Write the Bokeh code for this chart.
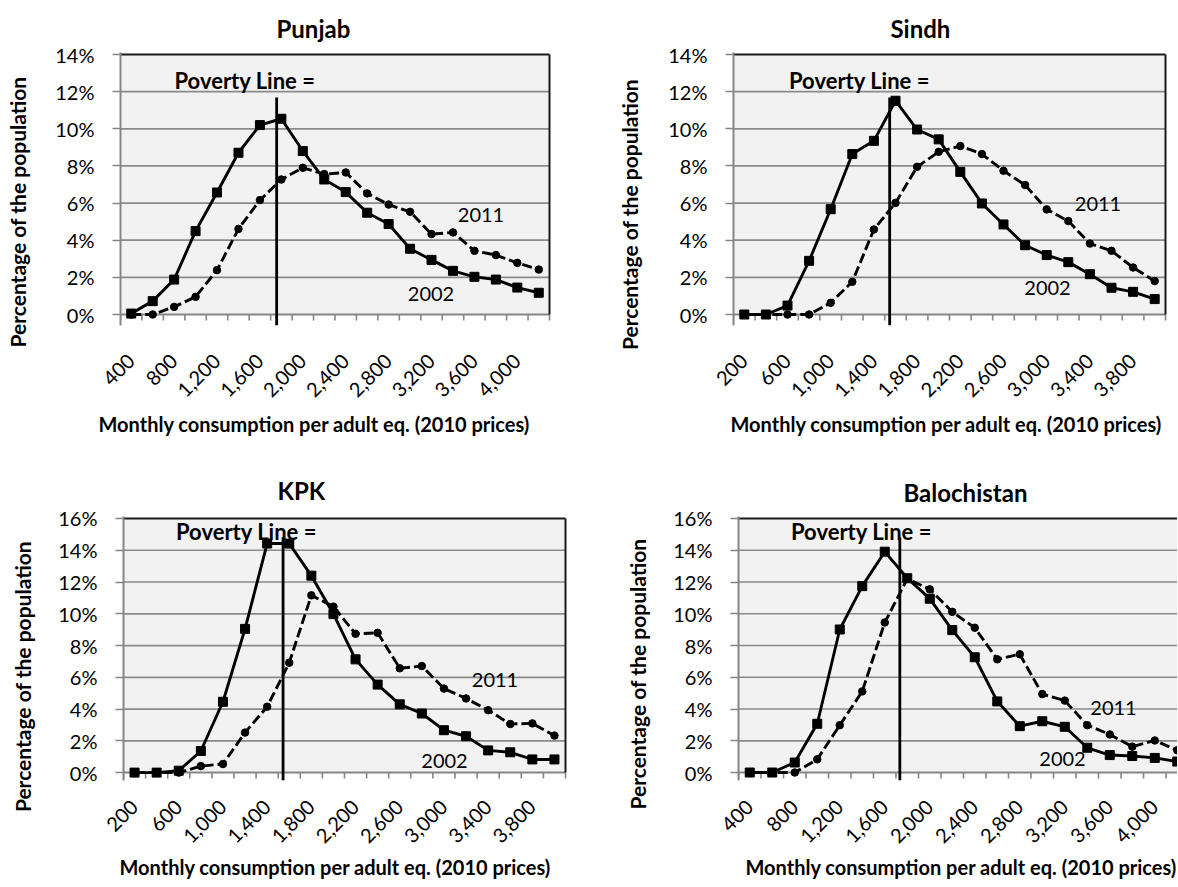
import math
from bokeh.plotting import figure
from bokeh.layouts import column, row
from bokeh.models import Range1d, FixedTicker, PrintfTickFormatter, Label, Title
from bokeh.embed import file_html
from bokeh.resources import INLINE

FONT = "Lato"

# ---------------- data ----------------
punjab_cats = [400, 600, 800, 1000, 1200, 1400, 1600, 1800, 2000, 2200,
               2400, 2600, 2800, 3000, 3200, 3400, 3600, 3800, 4000, 4200]
punjab_2002 = [0.05, 0.72, 1.88, 4.49, 6.57, 8.71, 10.2, 10.54, 8.8, 7.27,
               6.59, 5.48, 4.87, 3.54, 2.94, 2.35, 2.03, 1.88, 1.45, 1.17]
punjab_2011 = [0.0, 0.0, 0.41, 0.95, 2.39, 4.61, 6.16, 7.27, 7.9, 7.56,
               7.65, 6.52, 5.92, 5.53, 4.33, 4.42, 3.43, 3.2, 2.78, 2.42]

sindh_cats = [200, 400, 600, 800, 1000, 1200, 1400, 1600, 1800, 2000,
              2200, 2400, 2600, 2800, 3000, 3200, 3400, 3600, 3800, 4000]
sindh_2002 = [0.0, 0.0, 0.48, 2.89, 5.67, 8.64, 9.35, 11.51, 9.96, 9.43,
              7.68, 5.98, 4.85, 3.73, 3.2, 2.82, 2.17, 1.44, 1.22, 0.83]
sindh_2011 = [0.0, 0.0, 0.0, 0.0, 0.63, 1.76, 4.58, 6.01, 7.95, 8.76,
              9.07, 8.64, 7.74, 6.97, 5.66, 5.03, 3.82, 3.43, 2.53, 1.8]

kpk_cats = [200, 400, 600, 800, 1000, 1200, 1400, 1600, 1800, 2000,
            2200, 2400, 2600, 2800, 3000, 3200, 3400, 3600, 3800, 4000]
kpk_2002 = [0.0, 0.0, 0.12, 1.36, 4.46, 9.05, 14.42, 14.42, 12.4, 9.98,
            7.13, 5.54, 4.3, 3.72, 2.67, 2.29, 1.4, 1.28, 0.83, 0.83]
kpk_2011 = [0.0, 0.0, 0.0, 0.41, 0.54, 2.52, 4.15, 6.92, 11.16, 10.45,
            8.74, 8.8, 6.57, 6.71, 5.29, 4.67, 3.93, 3.06, 3.1, 2.33]

bal_cats = [400, 600, 800, 1000, 1200, 1400, 1600, 1800, 2000, 2200,
            2400, 2600, 2800, 3000, 3200, 3400, 3600, 3800, 4000, 4200]
bal_2002 = [0.0, 0.0, 0.63, 3.07, 9.01, 11.74, 13.91, 12.24, 10.95, 8.97,
            7.26, 4.48, 2.92, 3.23, 2.88, 1.56, 1.1, 1.04, 0.92, 0.69]
bal_2011 = [0.0, 0.0, 0.0, 0.83, 2.98, 5.11, 9.45, 12.2, 11.54, 10.12,
            9.12, 7.13, 7.45, 4.94, 4.53, 2.98, 2.4, 1.63, 2.02, 1.4]

X_TITLE = "Monthly consumption per adult eq. (2010 prices)"
Y_TITLE = "Percentage of the population"
POV_TEXT = "Poverty Line ="

GRID = "#8A8A8A"
AXIS = "#868686"
NBSP = "\u00a0"

# ---------------- layout geometry (page pixels) ----------------
GEOM = {
    "Punjab": dict(fig=(0, 0, 589, 443), left=119.7, top=54, zero=314, cat=21.45, ymax=14, ext=11,
                   t_off=156, t_stand=20, x_off=-22, x_stand=6, x_lab_stand=32,
                   y_stand=22, y_pad=9,
                   pov=(244.5, 80), y11=(480.5, 214), y02=(430.5, 293), pline=7.28, ptop=97),
    "Sindh": dict(fig=(589, 0, 588, 443), left=733, top=54, zero=314, cat=21.6, ymax=14, ext=11,
                  t_off=157, t_stand=20, x_off=-3, x_stand=6, x_lab_stand=32,
                  y_stand=23, y_pad=10,
                  pov=(859, 80), y11=(1097.5, 203), y02=(1047, 287), pline=7.23, ptop=97),
    "KPK": dict(fig=(0, 443, 589, 443), left=123.4, top=517.7, zero=776, cat=22.1, ymax=16, ext=8,
                t_off=154, t_stand=23, x_off=-4, x_stand=0, x_lab_stand=23,
                y_stand=20, y_pad=11,
                pov=(246, 531), y11=(494.5, 682), y02=(444, 764), pline=7.22, ptop=537),
    "Balochistan": dict(fig=(589, 443, 588, 443), left=738, top=517, zero=772, cat=22.5, ymax=16, ext=8,
                        xspan=19.51,
                        t_off=165, t_stand=20, x_off=7, x_stand=0, x_lab_stand=23,
                        y_stand=20, y_pad=10,
                        pov=(861, 530), y11=(1113, 707), y02=(1062, 758), pline=7.17, ptop=536),
}


def make_panel(name, cats, v2002, v2011):
    g = GEOM[name]
    fx, fy, fw, fh = g["fig"]
    n = len(cats)
    ymax = g["ymax"]
    ext = g["ext"]
    xspan = g.get("xspan", n + 2.0 / g["cat"])
    fl = int(round(g["left"] - fx))
    ft = int(round(g["top"] - 2 - fy))
    frame_w = int(round(xspan * g["cat"]))
    frame_w = min(frame_w, fw - fl)
    frame_h = int(round(g["zero"] + ext - (g["top"] - 2)))
    cat = frame_w / xspan
    ppp = (frame_h - ext - 2) / ymax
    y0 = -float(ext) / ppp
    y1 = ymax + 2.0 / ppp

    p = figure(width=fw, height=fh,
               min_border_left=fl, min_border_top=ft,
               min_border_right=fw - fl - frame_w,
               min_border_bottom=fh - ft - frame_h,
               x_range=Range1d(0, xspan), y_range=Range1d(y0, y1),
               output_backend="svg", toolbar_location=None)
    p.background_fill_color = "white"
    p.border_fill_color = "white"
    p.outline_line_color = None
    p.xgrid.visible = False
    p.ygrid.visible = False

    left_px = fx + fl
    top_px = fy + ft

    def dx(px):
        return (px - left_px) / cat

    def dy(py):
        return y1 - (py - top_px) / ppp

    # plot area
    p.quad(left=[0], right=[n], bottom=[0], top=[ymax], fill_color="#F2F2F2", line_color=None)
    yt = list(range(0, ymax + 1, 2))
    gy = yt[1:-1]
    p.segment(x0=[0] * len(gy), x1=[n] * len(gy), y0=gy, y1=gy, line_color=GRID, line_width=1.7)
    # category tick marks below axis
    bx = list(range(0, n + 1))
    p.segment(x0=bx, x1=bx, y0=[0] * len(bx), y1=[-6.0 / ppp] * len(bx), line_color=AXIS, line_width=1.6)
    # x axis line
    p.segment(x0=[0], x1=[n], y0=[0], y1=[0], line_color=AXIS, line_width=2)
    # top and right border
    p.segment(x0=[0], x1=[n], y0=[ymax], y1=[ymax], line_color="#1a1a1a", line_width=2)
    p.segment(x0=[n], x1=[n], y0=[0], y1=[ymax], line_color="#1a1a1a", line_width=2)

    xs = [i + 0.5 for i in range(n)]
    p.line(xs, v2011, line_color="black", line_width=2.9, line_dash="10 4")
    p.scatter(xs, v2011, marker="circle", size=7.5, fill_color="black", line_color="black")
    p.line(xs, v2002, line_color="black", line_width=2.9)
    p.scatter(xs, v2002, marker="square", size=9, fill_color="black", line_color="black")

    # poverty line
    p.segment(x0=[g["pline"]], x1=[g["pline"]], y0=[dy(g["ptop"])], y1=[y0],
              line_color="black", line_width=2.8)

    # x axis: labels only
    lab_pos = [i + 0.5 for i in range(0, n, 2)]
    p.xaxis.ticker = FixedTicker(ticks=lab_pos, minor_ticks=[])
    p.xaxis.major_label_overrides = {pos: f"{cats[i]:,}" for pos, i in zip(lab_pos, range(0, n, 2))}
    p.xaxis.axis_line_color = None
    p.xaxis.major_tick_in = 0
    p.xaxis.major_tick_out = 0
    p.xaxis.minor_tick_line_color = None
    p.xaxis.major_label_orientation = math.pi / 4
    p.xaxis.major_label_standoff = g["x_lab_stand"]
    p.xaxis.major_label_text_font = FONT
    p.xaxis.major_label_text_font_size = "20px"
    p.xaxis.major_label_text_color = "black"

    # y axis
    p.yaxis.ticker = FixedTicker(ticks=yt, minor_ticks=[])
    p.yaxis.formatter = PrintfTickFormatter(format="%d%%")
    p.yaxis.axis_line_color = AXIS
    p.yaxis.axis_line_width = 2
    p.yaxis.major_tick_line_color = AXIS
    p.yaxis.major_tick_line_width = 1.6
    p.yaxis.major_tick_out = 8
    p.yaxis.major_tick_in = 0
    p.yaxis.minor_tick_line_color = None
    p.yaxis.major_label_standoff = 18
    p.yaxis.major_label_text_font = FONT
    p.yaxis.major_label_text_font_size = "20px"
    p.yaxis.major_label_text_color = "black"
    p.yaxis.axis_label = Y_TITLE + NBSP * g["y_pad"]
    p.yaxis.axis_label_standoff = g["y_stand"]
    p.yaxis.axis_label_text_font = FONT
    p.yaxis.axis_label_text_font_size = "21px"
    p.yaxis.axis_label_text_font_style = "bold"
    p.yaxis.axis_label_text_color = "black"

    # chart title
    p.title.text = name
    p.title.align = "left"
    p.title.offset = g["t_off"]
    p.title.standoff = g["t_stand"]
    p.title.text_font = FONT
    p.title.text_font_size = "24px"
    p.title.text_font_style = "bold"
    p.title.text_color = "black"

    # x axis title
    p.add_layout(Title(text=X_TITLE, align="left", offset=g["x_off"], standoff=g["x_stand"],
                       text_font=FONT, text_font_size="20px", text_font_style="bold",
                       text_color="black"), "below")

    def lab(pos, text, size, bold=False):
        p.add_layout(Label(x=dx(pos[0]), y=dy(pos[1]), text=text, text_align="center",
                           text_baseline="middle", text_font=FONT,
                           text_font_size=size, text_font_style="bold" if bold else "normal",
                           text_color="black"))

    lab(g["pov"], POV_TEXT, "22px", bold=True)
    lab(g["y11"], "2011", "20px")
    lab(g["y02"], "2002", "20px")
    return p


p1 = make_panel("Punjab", punjab_cats, punjab_2002, punjab_2011)
p2 = make_panel("Sindh", sindh_cats, sindh_2002, sindh_2011)
p3 = make_panel("KPK", kpk_cats, kpk_2002, kpk_2011)
p4 = make_panel("Balochistan", bal_cats, bal_2002, bal_2011)

layout = column(row(p1, p2), row(p3, p4))
open("out.html", "w").write(file_html(layout, INLINE))
